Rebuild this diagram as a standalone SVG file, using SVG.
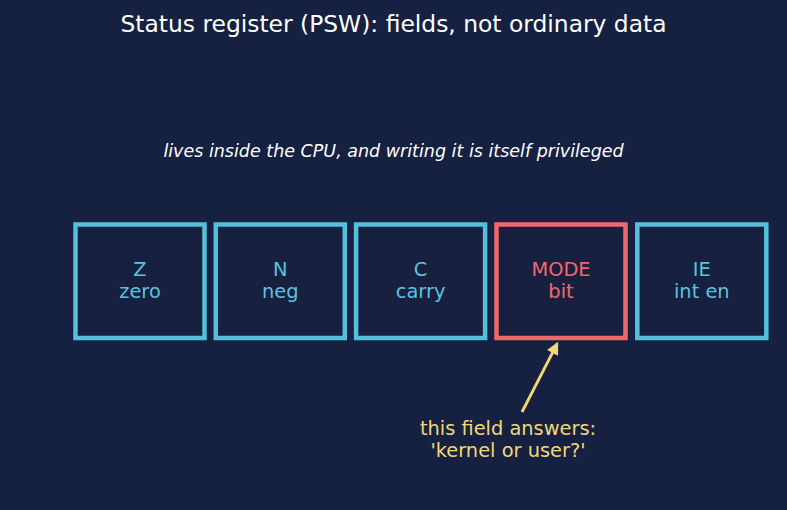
<svg xmlns="http://www.w3.org/2000/svg" width="787" height="510" viewBox="0 0 787 510">
<defs>
<style>
text{font-family:"DejaVu Sans","Liberation Sans",sans-serif;text-anchor:middle}
.box{fill:#17203f;stroke-width:4.5}
.cy rect{stroke:#56c0dc}
.cy text{fill:#5bc3df}
.rd rect{stroke:#f0686a}
.rd text{fill:#f2696b}
.lbl{font-size:19.4px}
</style>
<marker id="ah" viewBox="0 0 10 10" refX="8" refY="5" markerWidth="4.5" markerHeight="4.5" orient="auto" markerUnits="strokeWidth"><path d="M0,0 L10,5 L0,10 z" fill="#f0d878"/></marker>
</defs>
<rect width="787" height="510" fill="#162040"/>
<text x="393.5" y="32" font-size="23.4" fill="#ffffff">Status register (PSW): fields, not ordinary data</text>
<text x="393.5" y="157" font-size="17.5" font-style="italic" fill="#ffffff">lives inside the CPU, and writing it is itself privileged</text>
<g id="z" class="cy"><rect class="box" x="75.5" y="224.5" width="129" height="113.5"/><text class="lbl" x="140" y="276">Z</text><text class="lbl" x="140" y="298">zero</text></g>
<g id="n" class="cy"><rect class="box" x="215.8" y="224.5" width="129" height="113.5"/><text class="lbl" x="280.3" y="276">N</text><text class="lbl" x="280.3" y="298">neg</text></g>
<g id="c" class="cy"><rect class="box" x="356.1" y="224.5" width="129" height="113.5"/><text class="lbl" x="420.6" y="276">C</text><text class="lbl" x="420.6" y="298">carry</text></g>
<g id="mode" class="rd"><rect class="box" x="496.5" y="224.5" width="129" height="113.5"/><text class="lbl" x="561" y="276">MODE</text><text class="lbl" x="561" y="298">bit</text></g>
<g id="ie" class="cy"><rect class="box" x="637.3" y="224.5" width="129" height="113.5"/><text class="lbl" x="701.8" y="276">IE</text><text class="lbl" x="701.8" y="298">int en</text></g>
<g id="connectors"><line x1="522" y1="412" x2="557" y2="344" stroke="#f0d878" stroke-width="2.8" marker-end="url(#ah)"/></g>
<g id="note"><text class="lbl" x="508" y="435" fill="#f0d878">this field answers:</text><text class="lbl" x="508" y="457" fill="#f0d878">'kernel or user?'</text></g>
</svg>
